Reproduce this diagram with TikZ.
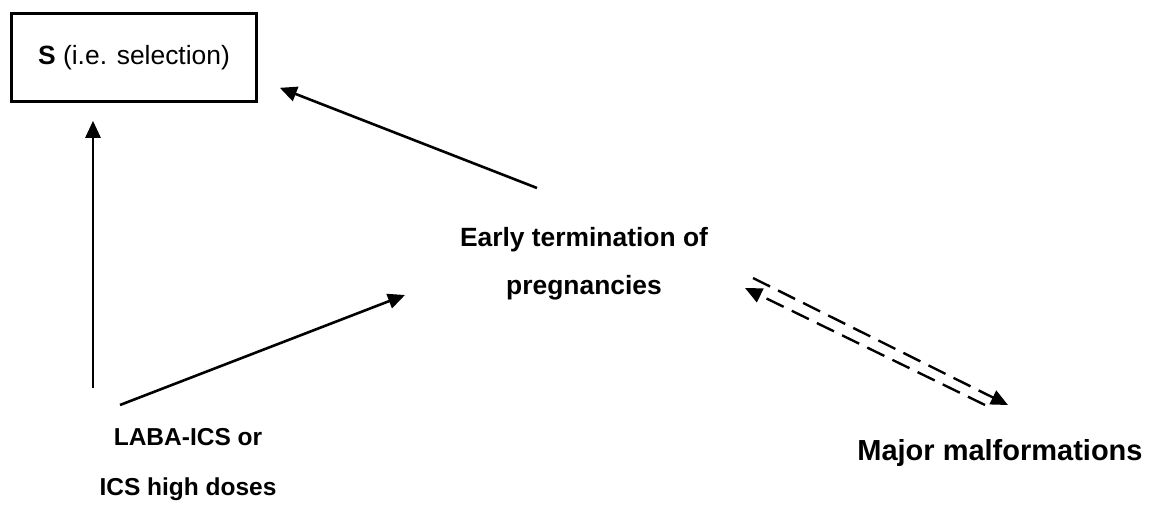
\documentclass[tikz,border=0pt]{standalone}
\usepackage{fontspec}
\setmainfont{Liberation Sans}
\usetikzlibrary{arrows.meta,positioning,calc}

\begin{document}
\begin{tikzpicture}[x=1pt,y=1pt,font=\fontsize{26.4}{48}\selectfont,
   lbl/.style={align=center,inner sep=0pt,font=\fontsize{26.4}{48}\selectfont\bfseries},
   selbox/.style={draw,line width=2.6pt,minimum width=245pt,minimum height=88pt,inner sep=0pt},
   arr/.style={line width=2.6pt,-{Triangle[length=17pt,width=15pt]}},
   darr/.style={line width=2.4pt,dash pattern=on 19pt off 9pt,-{Triangle[length=17pt,width=15pt]}}]
  \useasboundingbox (0,0) rectangle (1157,504);
  \node[selbox] (sel) at (134,446.5) {\textbf{S} (i.e. selection)};
  \node[lbl] (term) at (584,240) {Early termination of\\pregnancies};
  \node[lbl,font=\fontsize{24.5}{50}\selectfont\bfseries] (expo) at (188,39) {LABA-ICS or\\ICS high doses};
  \node[lbl,font=\fontsize{29}{34}\selectfont\bfseries] (malf) at (1000,51) {Major malformations};
  % solid arrows
  \draw[arr] ([shift={(-95,77)}]expo.center) -- ([xshift=-41,yshift=-18]sel.south);
  \draw[arr] ([shift={(-68,60)}]expo.center) -- ([shift={(-179,-31)}]term.center);
  \draw[arr] ([shift={(-47,76)}]term.center) -- ([shift={(22,15)}]sel.south east);
  % dashed pair
  \draw[darr] ([shift={(169,-14)}]term.center) -- ([shift={(8,48)}]malf.center);
  \draw[darr] ([shift={(-15,48)}]malf.center) -- ([shift={(161,-24)}]term.center);
\end{tikzpicture}
\end{document}
